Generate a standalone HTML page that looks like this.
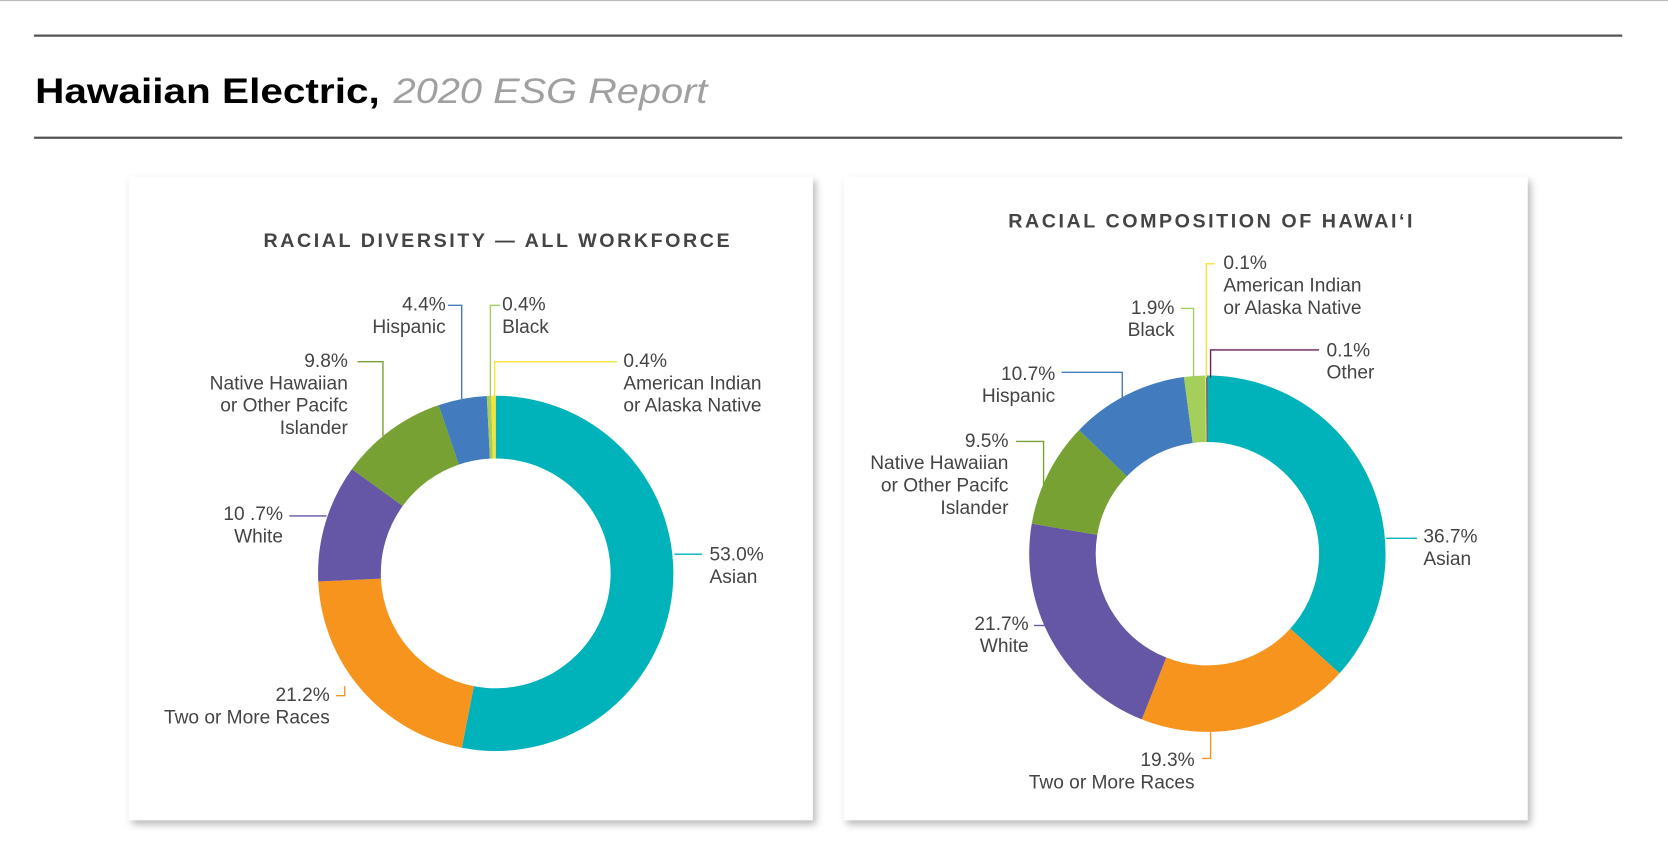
<!DOCTYPE html>
<html><head><meta charset="utf-8">
<style>
html,body{margin:0;padding:0;background:#fff;}
svg{display:block;}
.lbl{font-family:"Liberation Sans Narrow","Liberation Sans",sans-serif;font-size:18px;fill:#444;}
.ttl{font-family:"Liberation Sans",sans-serif;font-weight:bold;font-size:18.5px;fill:#444;letter-spacing:2.4px;}
</style></head>
<body>
<svg id="root" width="1668" height="859" viewBox="0 0 1568 807.5">
<defs>
<filter id="sh" x="-5%" y="-5%" width="112%" height="112%">
<feDropShadow dx="3" dy="4" stdDeviation="3.5" flood-color="#000" flood-opacity="0.28"/>
</filter>
</defs>
<line x1="0" y1="0.5" x2="1568" y2="0.5" stroke="#bbb" stroke-width="1"/>
<line x1="32" y1="33.5" x2="1525" y2="33.5" stroke="#555" stroke-width="2.2"/>
<line x1="32" y1="129.5" x2="1525" y2="129.5" stroke="#555" stroke-width="2.2"/>
<text x="33" y="97" font-family="Liberation Sans, sans-serif" font-size="33"><tspan font-weight="bold" fill="#000" textLength="324" lengthAdjust="spacingAndGlyphs">Hawaiian Electric,</tspan><tspan font-style="italic" fill="#a0a0a0" x="370" textLength="295" lengthAdjust="spacingAndGlyphs">2020 ESG Report</tspan></text>
<rect x="121" y="166" width="643" height="605" fill="#fff" filter="url(#sh)"/>
<rect x="793" y="166" width="643" height="605" fill="#fff" filter="url(#sh)"/>
<text class="ttl" x="468" y="232" text-anchor="middle">RACIAL DIVERSITY — ALL WORKFORCE</text>
<text class="ttl" x="1139" y="214" text-anchor="middle">RACIAL COMPOSITION OF HAWAI‘I</text>
<g id="c1"></g>
<g id="c2"></g>
<g id="labels"></g>
</svg>
<script>
// Workforce
const cats1 = ["Asian","Two or More Races","White","Native Hawaiian or Other Pacific Islander","Hispanic","Black","American Indian or Alaska Native"];
const vals1 = [53.0,21.2,10.7,9.8,4.4,0.4,0.4];
const cols1 = ["#00b3bb","#f7941e","#6656a6","#77a233","#437bbf","#a4cf5b","#f4e43a"];
// Hawaii
const cats2 = ["Asian","Two or More Races","White","Native Hawaiian or Other Pacific Islander","Hispanic","Black","American Indian or Alaska Native","Other"];
const vals2 = [36.7,19.3,21.7,9.5,10.7,1.9,0.1,0.1];
const cols2 = ["#00b3bb","#f7941e","#6656a6","#77a233","#437bbf","#a4cf5b","#f4e43a","#6a1e5a"];

const NS="http://www.w3.org/2000/svg";
function pt(cx,cy,r,a){return [cx+r*Math.sin(a),cy-r*Math.cos(a)];}
function donut(gid,vals,cols,cats,cx,cy,R,r){
  const g=document.getElementById(gid);
  const tot=vals.reduce((a,b)=>a+b,0);
  let acc=0;
  vals.forEach((v,i)=>{
    const a0=acc/tot*2*Math.PI; acc+=v; const a1=acc/tot*2*Math.PI;
    const large=(a1-a0)>Math.PI?1:0;
    const p0=pt(cx,cy,R,a0),p1=pt(cx,cy,R,a1),q1=pt(cx,cy,r,a1),q0=pt(cx,cy,r,a0);
    const p=document.createElementNS(NS,"path");
    p.setAttribute("d",`M${p0}A${R},${R} 0 ${large} 1 ${p1}L${q1}A${r},${r} 0 ${large} 0 ${q0}Z`);
    p.setAttribute("fill",cols[i]);
    
    
    g.appendChild(p);
  });
}
donut("c1",vals1,cols1,cats1,466,539,167,108);
donut("c2",vals2,cols2,cats2,1135,520.5,167.5,105);

const L=[
 ["end",419,292,["4.4%","Hispanic"],"#437bbf","421,287 434,287 434,375","label-wf-hispanic"],
 ["start",472,292,["0.4%","Black"],"#a4cf5b","470,287 461,287 461,373","label-wf-black"],
 ["start",586,345,["0.4%","American Indian","or Alaska Native"],"#f4e43a","580,340 465,340 465,373","label-wf-aian"],
 ["end",327,345,["9.8%","Native Hawaiian","or Other Pacifc","Islander"],"#77a233","336,340 360,340 360,410","label-wf-nhpi"],
 ["end",266,489,["10 .7%","White"],"#6656a6","272,485 307,485","label-wf-white"],
 ["start",667,527,["53.0%","Asian"],"#00b3bb","634,521 660,521","label-wf-asian"],
 ["end",310,659,["21.2%","Two or More Races"],"#f7941e","316,654 324,654 324,645","label-wf-two-or-more"],
 ["start",1150,253,["0.1%","American Indian","or Alaska Native"],"#f4e43a","1142,248 1134,248 1134,355","label-hi-aian"],
 ["end",1104,295,["1.9%","Black"],"#a4cf5b","1110,290 1122,290 1122,355","label-hi-black"],
 ["start",1247,335,["0.1%","Other"],"#6a1e5a","1240,329 1138,329 1138,355","label-hi-other"],
 ["end",992,357,["10.7%","Hispanic"],"#437bbf","998,350 1055,350 1055,412","label-hi-hispanic"],
 ["end",948,420,["9.5%","Native Hawaiian","or Other Pacifc","Islander"],"#77a233","955,415 981,415 981,458","label-hi-nhpi"],
 ["start",1338,510,["36.7%","Asian"],"#00b3bb","1303,506 1332,506","label-hi-asian"],
 ["end",967,592,["21.7%","White"],"#6656a6","972,588 985,588","label-hi-white"],
 ["end",1123,720,["19.3%","Two or More Races"],"#f7941e","1130,713 1138,713 1138,688","label-hi-two-or-more"]
];
const lg=document.getElementById("labels");
L.forEach(d=>{
  const pl=document.createElementNS(NS,"polyline");
  pl.setAttribute("points",d[5]);pl.setAttribute("fill","none");pl.setAttribute("stroke",d[4]);pl.setAttribute("stroke-width","1.3");
  
  
  lg.appendChild(pl);
  const t=document.createElementNS(NS,"text");
  t.setAttribute("class","lbl");t.setAttribute("x",d[1]);t.setAttribute("y",d[2]);t.setAttribute("text-anchor",d[0]);
  
  
  d[3].forEach((s,i)=>{const ts=document.createElementNS(NS,"tspan");ts.setAttribute("x",d[1]);if(i)ts.setAttribute("dy","21");ts.textContent=s;t.appendChild(ts);});
  lg.appendChild(t);
});
</script>
</body></html>
